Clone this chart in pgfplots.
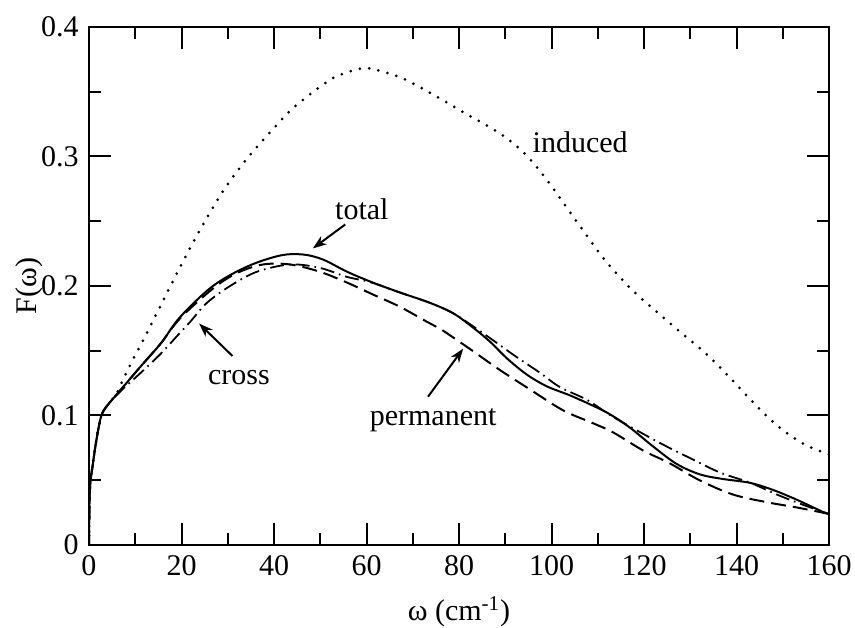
\documentclass[border=0pt]{standalone}
\usepackage{fontspec}
\setmainfont{Liberation Serif}
\usepackage{pgfplots}
\pgfplotsset{compat=1.18}
\usetikzlibrary{arrows.meta}

\pgfplotstableread{
x y
0 0
0.2 0.043
0.9 0.064
1.6 0.081
2.6 0.099
3.8 0.107
6.9 0.12
11.2 0.138
15.6 0.156
19.7 0.176
26.8 0.200
34.2 0.215
41.3 0.2235
46.3 0.2243
50.6 0.2204
55.8 0.211
61.4 0.2026
67.2 0.195
73.7 0.187
78.7 0.179
83 0.168
86.7 0.157
90.4 0.144
94.7 0.1315
99 0.1225
104 0.1155
109 0.1075
112.6 0.101
117 0.0905
122 0.076
127.1 0.0625
132.1 0.0545
137 0.051
142.9 0.048
147.9 0.0425
153 0.035
158.7 0.0255
160 0.024
}\total

\pgfplotstableread{
x y
0 0
0.2 0.043
0.9 0.064
1.6 0.081
2.6 0.099
3.8 0.107
6.9 0.12
11.2 0.138
15.6 0.156
19.7 0.175
26.8 0.198
32 0.210
37.6 0.2166
43.5 0.2166
49.9 0.211
55.8 0.2026
61.4 0.1934
67.2 0.184
73 0.1725
75.9 0.167
81.7 0.153
88.9 0.135
95.4 0.12
102.5 0.104
109 0.094
113.3 0.087
119.8 0.073
125.6 0.063
132 0.05
139.2 0.039
146.6 0.033
153 0.029
160 0.024
}\permanent

\pgfplotstableread{
x y
0 0
0.2 0.043
0.9 0.064
1.6 0.081
2.6 0.099
3.8 0.107
6.9 0.119
11.2 0.133
15.6 0.148
19.2 0.162
21.8 0.172
25.5 0.187
30.5 0.2
36.3 0.211
43.5 0.2166
49.9 0.214
55.8 0.207
60.8 0.203
67.2 0.195
73.7 0.187
78.7 0.179
83 0.169
87.4 0.158
92.5 0.145
97.5 0.133
101.8 0.122
107.7 0.112
113.3 0.099
122.8 0.08
130 0.067
136.4 0.056
143 0.048
148.7 0.039
154.4 0.031
160 0.024
}\cross

\pgfplotstableread{
x y
0 0
0.2 0.043
0.9 0.064
1.6 0.081
2.6 0.099
3.8 0.107
6 0.117
7.4 0.128
8.9 0.139
10.2 0.148
11.7 0.158
15.5 0.185
17.9 0.202
21.8 0.229
24.6 0.247
29.1 0.274
34.3 0.299
40 0.322
44.3 0.338
51.6 0.358
55 0.364
59 0.368
62 0.367
68 0.36
75.3 0.346
81 0.334
85 0.326
90 0.315
94 0.303
97 0.291
100 0.277
103 0.262
106 0.247
109 0.232
112 0.218
117.7 0.196
124.4 0.175
129 0.161
133 0.149
137 0.135
141 0.12
145 0.105
149.2 0.091
154 0.079
157 0.074
160 0.07
}\induced

\begin{document}
\fontsize{15}{18}\selectfont
\begin{tikzpicture}
\begin{axis}[
  name=ax,
  width=370pt, height=259pt, scale only axis,
  xmin=0, xmax=160, ymin=0, ymax=0.4,
  xtick={0,20,...,160},
  ytick={0,0.1,0.2,0.3,0.4},
  minor x tick num=1, minor y tick num=1,
  tick align=inside,
  major tick length=11pt, minor tick length=6pt,
  every tick/.style={line width=1pt, black},
  axis line style={line width=1.2pt},
  /pgf/number format/assume math mode=true,
  yticklabel style={/pgf/number format/fixed, /pgf/number format/precision=1},
  xlabel={ω (cm\textsuperscript{-1})},
  ylabel={F(ω)},
  xlabel style={at={(axis description cs:0.5,-0.129)}, anchor=center},
  ylabel style={at={(axis description cs:-0.081,0.5)}, anchor=center},
  clip=true,
]
\addplot[black, line width=1pt, smooth, tension=0.55] table[x=x,y=y] {\total};
\addplot[black, line width=1pt, smooth, tension=0.55, dash pattern=on 7.5pt off 3.5pt] table[x=x,y=y] {\permanent};
\addplot[black, line width=0.9pt, smooth, tension=0.55, dash pattern=on 7pt off 2.5pt on 0.8pt off 2.5pt] table[x=x,y=y] {\cross};
\addplot[black, line width=1.5pt, smooth, tension=0.55, line cap=round, dash pattern=on 0pt off 4.7pt] table[x=x,y=y] {\induced};

\node at (axis cs:106.2,0.311) {induced};
\node at (axis cs:59.0,0.259) {total};
\node at (axis cs:32.4,0.129) {cross};
\node at (axis cs:74.4,0.096) {permanent};
\draw[line width=1pt, -{Stealth[length=7pt,width=5pt]}] (axis cs:55.4,0.2475) -- (axis cs:48.4,0.229);
\draw[line width=1pt, -{Stealth[length=7pt,width=5pt]}] (axis cs:31,0.146) -- (axis cs:23.8,0.171);
\draw[line width=1pt, -{Stealth[length=7pt,width=5pt]}] (axis cs:73.3,0.1145) -- (axis cs:80.9,0.1516);
\end{axis}
\pgfresetboundingbox
\path (ax.south west) ++(-44.5pt,-41.5pt) coordinate (bbA);
\path (ax.north east) ++(13pt,13.5pt) coordinate (bbB);
\path[use as bounding box] (bbA) rectangle (bbB);
\end{tikzpicture}
\end{document}
